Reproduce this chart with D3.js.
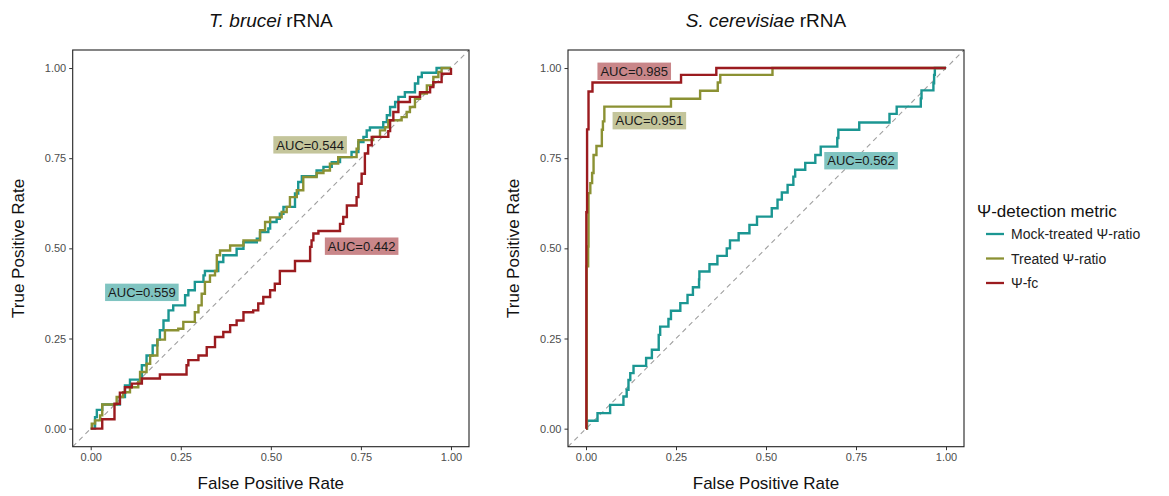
<!DOCTYPE html>
<html><head><meta charset="utf-8">
<script src="https://cdn.jsdelivr.net/npm/d3@7"></script>
<style>body{margin:0;background:#fff}svg{display:block}text{font-family:"Liberation Sans",Arial,Helvetica,sans-serif}</style>
</head><body><svg id="c" width="1169" height="496"></svg>
<script>
// ---------- data ----------
const seriesNames = ["Mock-treated Ψ-ratio", "Treated Ψ-ratio", "Ψ-fc"];
const seriesColors = ["#1b9692", "#8b9133", "#9b1b1f"];
const labelFills = ["#80c4c1", "#c4c59b", "#c98689"];
const tickValues = [0, 0.25, 0.5, 0.75, 1];
const tickLabels = ["0.00", "0.25", "0.50", "0.75", "1.00"];

// T. brucei (fpr, tpr)
const brucMock = [[0,0],[0.012,0.032],[0.017,0.052],[0.032,0.067],[0.081,0.088],[0.095,0.12],[0.109,0.136],[0.142,0.176],[0.155,0.203],[0.172,0.231],[0.185,0.247],[0.192,0.273],[0.202,0.30],[0.216,0.328],[0.229,0.342],[0.262,0.37],[0.271,0.384],[0.289,0.407],[0.313,0.425],[0.317,0.437],[0.354,0.462],[0.368,0.481],[0.405,0.499],[0.424,0.517],[0.461,0.527],[0.47,0.545],[0.493,0.555],[0.498,0.573],[0.516,0.582],[0.525,0.596],[0.535,0.615],[0.567,0.652],[0.576,0.684],[0.586,0.70],[0.627,0.716],[0.646,0.726],[0.669,0.739],[0.692,0.753],[0.724,0.767],[0.743,0.795],[0.757,0.809],[0.766,0.827],[0.775,0.835],[0.812,0.850],[0.822,0.869],[0.831,0.892],[0.845,0.906],[0.854,0.92],[0.872,0.933],[0.90,0.957],[0.909,0.975],[0.919,0.987],[0.96,1.0],[1,1]];
const brucTreated = [[0,0],[0.003,0.014],[0.012,0.023],[0.026,0.037],[0.032,0.067],[0.072,0.088],[0.090,0.101],[0.109,0.115],[0.132,0.129],[0.137,0.157],[0.155,0.18],[0.165,0.203],[0.185,0.247],[0.206,0.273],[0.243,0.277],[0.257,0.296],[0.289,0.323],[0.299,0.342],[0.308,0.374],[0.317,0.407],[0.331,0.425],[0.345,0.437],[0.35,0.481],[0.359,0.494],[0.387,0.508],[0.424,0.522],[0.47,0.55],[0.484,0.573],[0.498,0.586],[0.530,0.601],[0.544,0.615],[0.553,0.642],[0.572,0.661],[0.590,0.698],[0.627,0.709],[0.646,0.716],[0.664,0.735],[0.687,0.753],[0.738,0.776],[0.743,0.80],[0.784,0.809],[0.803,0.827],[0.817,0.836],[0.826,0.855],[0.863,0.864],[0.877,0.878],[0.886,0.892],[0.90,0.915],[0.914,0.929],[0.933,0.952],[0.951,0.975],[0.965,0.989],[0.974,1.0],[1,1]];
const brucFc = [[0,0],[0.032,0.026],[0.066,0.069],[0.081,0.10],[0.095,0.115],[0.114,0.125],[0.142,0.139],[0.192,0.150],[0.266,0.176],[0.271,0.19],[0.299,0.203],[0.322,0.226],[0.345,0.254],[0.368,0.268],[0.387,0.287],[0.405,0.30],[0.424,0.323],[0.451,0.328],[0.465,0.347],[0.479,0.365],[0.498,0.384],[0.511,0.402],[0.525,0.437],[0.567,0.465],[0.609,0.504],[0.613,0.522],[0.618,0.541],[0.632,0.548],[0.692,0.568],[0.701,0.587],[0.711,0.619],[0.738,0.642],[0.743,0.679],[0.752,0.707],[0.761,0.763],[0.770,0.786],[0.780,0.809],[0.826,0.825],[0.831,0.855],[0.840,0.878],[0.854,0.906],[0.886,0.92],[0.914,0.933],[0.942,0.947],[0.951,0.961],[0.974,0.984],[1.0,0.989],[1,1]];

// S. cerevisiae (fpr, tpr)
const cereMock = [[0,0],[0.003,0.022],[0.032,0.043],[0.067,0.066],[0.104,0.089],[0.113,0.108],[0.118,0.135],[0.123,0.154],[0.132,0.174],[0.167,0.196],[0.183,0.219],[0.202,0.26],[0.206,0.283],[0.229,0.304],[0.236,0.327],[0.262,0.348],[0.282,0.371],[0.297,0.392],[0.314,0.414],[0.315,0.436],[0.343,0.456],[0.365,0.479],[0.391,0.50],[0.40,0.522],[0.424,0.542],[0.454,0.565],[0.475,0.588],[0.516,0.611],[0.532,0.635],[0.544,0.655],[0.560,0.676],[0.576,0.699],[0.581,0.718],[0.609,0.737],[0.637,0.759],[0.652,0.782],[0.698,0.806],[0.701,0.829],[0.759,0.849],[0.843,0.873],[0.863,0.893],[0.930,0.916],[0.932,0.938],[0.965,0.958],[0.967,0.981],[0.969,1.0],[1,1]];
const cereTreated = [[0,0],[0.002,0.45],[0.006,0.505],[0.007,0.653],[0.012,0.681],[0.017,0.709],[0.021,0.759],[0.029,0.784],[0.044,0.829],[0.047,0.852],[0.051,0.893],[0.236,0.915],[0.317,0.937],[0.366,0.96],[0.373,0.981],[0.518,1.0],[1,1]];
const cereFc = [[0,0],[0.001,0.6],[0.003,0.83],[0.007,0.935],[0.018,0.96],[0.264,0.981],[0.362,1],[1,1]];

// AUC annotations: [fpr, tpr, text, series index]
const brucAUC = [[0.142,0.378,"AUC=0.559",0],[0.609,0.787,"AUC=0.544",1],[0.752,0.506,"AUC=0.442",2]];
const cereAUC = [[0.764,0.743,"AUC=0.562",0],[0.176,0.854,"AUC=0.951",1],[0.134,0.991,"AUC=0.985",2]];

// ---------- drawing ----------
const svg = d3.select("#c");

function panel(left, right, top, bottom, title, series, annots, yTitleX) {
  const x = d3.scaleLinear().domain([-0.05, 1.05]).range([left, right]);
  const y = d3.scaleLinear().domain([-0.05, 1.05]).range([bottom, top]);
  const g = svg.append("g");
  const clipId = "clip" + Math.round(left);
  g.append("clipPath").attr("id", clipId).append("rect")
    .attr("x", left).attr("y", top).attr("width", right - left).attr("height", bottom - top);

  // diagonal
  g.append("line").attr("clip-path", `url(#${clipId})`)
    .attr("x1", x(-0.05)).attr("y1", y(-0.05)).attr("x2", x(1.05)).attr("y2", y(1.05))
    .attr("stroke", "#a0a0a0").attr("stroke-width", 1.1).attr("stroke-dasharray", "5,4");

  const line = d3.line().x(d => x(d[0])).y(d => y(d[1])).curve(d3.curveStepAfter);
  series.forEach((s, i) => {
    g.append("path").datum(s).attr("d", line).attr("fill", "none")
      .attr("stroke", seriesColors[i]).attr("stroke-width", 2.4).attr("stroke-linejoin", "miter");
  });

  // labels
  annots.forEach(a => {
    const lg = g.append("g");
    const t = lg.append("text").attr("x", x(a[0])).attr("y", y(a[1])).attr("dy", "0.36em")
      .attr("text-anchor", "middle").attr("font-size", 13).attr("fill", "#1a1a1a").text(a[2]);
    const bb = t.node().getBBox();
    lg.insert("rect", "text").attr("x", bb.x - 3).attr("y", y(a[1]) - 8.7)
      .attr("width", bb.width + 6).attr("height", 17.4).attr("fill", labelFills[a[3]]);
  });

  // border
  g.append("rect").attr("x", left).attr("y", top).attr("width", right - left).attr("height", bottom - top)
    .attr("fill", "none").attr("stroke", "#222").attr("stroke-width", 1.1);

  // axes
  const xa = g.append("g").attr("transform", `translate(0,${bottom})`)
    .call(d3.axisBottom(x).tickValues(tickValues).tickFormat((d, i) => tickLabels[i]).tickSize(3.5).tickPadding(3));
  const ya = g.append("g").attr("transform", `translate(${left},0)`)
    .call(d3.axisLeft(y).tickValues(tickValues).tickFormat((d, i) => tickLabels[i]).tickSize(3.5).tickPadding(3));
  [xa, ya].forEach(a => {
    a.select(".domain").remove();
    a.selectAll(".tick line").attr("stroke", "#333").attr("stroke-width", 1);
    a.selectAll(".tick text").attr("fill", "#4d4d4d").attr("font-size", 11)
      .style("font-family", '"Liberation Sans",Arial,sans-serif');
  });

  // title
  const cx = (left + right) / 2;
  const tt = g.append("text").attr("x", cx).attr("y", 27).attr("text-anchor", "middle")
    .attr("font-size", 19).attr("fill", "#111");
  tt.append("tspan").attr("font-style", "italic").text(title[0]);
  tt.append("tspan").text(" " + title[1]);

  g.append("text").attr("x", cx).attr("y", 489).attr("text-anchor", "middle")
    .attr("font-size", 17).attr("fill", "#111").text("False Positive Rate");
  g.append("text").attr("transform", `translate(${yTitleX},${(top + bottom) / 2}) rotate(-90)`)
    .attr("text-anchor", "middle").attr("font-size", 17).attr("fill", "#111").text("True Positive Rate");
}

panel(72.7, 469, 50, 446.7, ["T. brucei", "rRNA"], [brucMock, brucTreated, brucFc], brucAUC, 24);
panel(568, 964, 50, 446.7, ["S. cerevisiae", "rRNA"], [cereMock, cereTreated, cereFc], cereAUC, 519);

// legend
const lg = svg.append("g");
lg.append("text").attr("x", 977).attr("y", 217).attr("font-size", 17).attr("fill", "#111").text("Ψ-detection metric");
seriesNames.forEach((n, i) => {
  const yy = 234 + i * 24.5;
  lg.append("line").attr("x1", 986).attr("x2", 1004).attr("y1", yy).attr("y2", yy)
    .attr("stroke", seriesColors[i]).attr("stroke-width", 2.3);
  lg.append("text").attr("x", 1011).attr("y", yy).attr("dy", "0.36em").attr("font-size", 14)
    .attr("fill", "#222").text(n);
});
</script></body></html>
